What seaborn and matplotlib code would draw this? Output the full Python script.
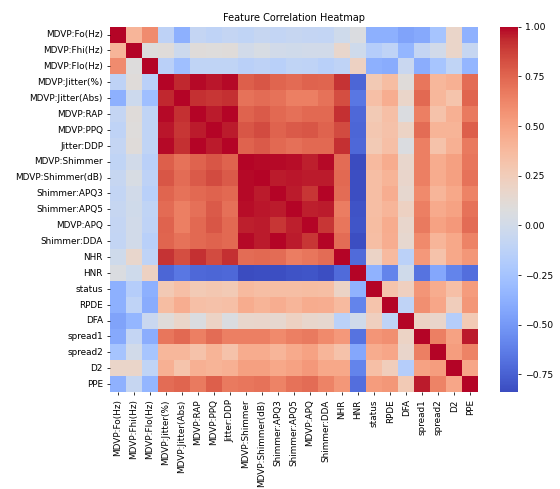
import numpy as np
import pandas as pd
import matplotlib
matplotlib.use('Agg')
import matplotlib.pyplot as plt
import seaborn as sns

# Feature names (order as in the heatmap)
features = [
    "MDVP:Fo(Hz)", "MDVP:Fhi(Hz)", "MDVP:Flo(Hz)", "MDVP:Jitter(%)",
    "MDVP:Jitter(Abs)", "MDVP:RAP", "MDVP:PPQ", "Jitter:DDP",
    "MDVP:Shimmer", "MDVP:Shimmer(dB)", "Shimmer:APQ3", "Shimmer:APQ5",
    "MDVP:APQ", "Shimmer:DDA", "NHR", "HNR", "status", "RPDE", "DFA",
    "spread1", "spread2", "D2", "PPE",
]

# Correlation of each feature with the features that follow it
fo = [0.40, 0.60, -0.12, -0.38, -0.08, -0.11, -0.08, -0.10, -0.07, -0.09, -0.07,
      -0.08, -0.09, -0.02, 0.06, -0.38, -0.38, -0.45, -0.41, -0.25, 0.18, -0.37]
fhi = [0.08, 0.10, -0.03, 0.10, 0.09, 0.10, 0.00, 0.04, -0.00, -0.01, 0.00,
       -0.00, 0.16, -0.02, -0.17, -0.11, -0.34, -0.08, -0.00, 0.18, -0.07]
flo = [-0.14, -0.28, -0.10, -0.10, -0.10, -0.14, -0.12, -0.15, -0.10, -0.11,
       -0.15, -0.11, 0.21, -0.38, -0.40, -0.05, -0.39, -0.24, -0.10, -0.34]
jitter_pct = [0.94, 0.99, 0.97, 0.99, 0.77, 0.80, 0.75, 0.73, 0.76, 0.75, 0.91,
              -0.73, 0.28, 0.36, 0.10, 0.69, 0.39, 0.43, 0.72]
jitter_abs = [0.92, 0.90, 0.92, 0.70, 0.72, 0.70, 0.65, 0.65, 0.70, 0.83,
              -0.66, 0.34, 0.44, 0.18, 0.74, 0.39, 0.31, 0.75]
rap = [0.96, 1.00, 0.76, 0.79, 0.74, 0.71, 0.74, 0.74, 0.92, -0.72, 0.27,
       0.34, 0.06, 0.65, 0.32, 0.43, 0.67]
ppq = [0.96, 0.80, 0.84, 0.76, 0.79, 0.80, 0.76, 0.84, -0.73, 0.29, 0.33,
       0.20, 0.72, 0.41, 0.41, 0.77]
ddp = [0.76, 0.79, 0.74, 0.71, 0.74, 0.74, 0.92, -0.72, 0.27, 0.34, 0.06,
       0.65, 0.32, 0.43, 0.67]
shimmer = [0.99, 0.99, 0.98, 0.95, 0.99, 0.72, -0.84, 0.37, 0.45, 0.16, 0.65,
           0.45, 0.51, 0.69]
shimmer_db = [0.96, 0.97, 0.96, 0.96, 0.74, -0.83, 0.35, 0.41, 0.17, 0.65,
              0.45, 0.51, 0.70]
apq3 = [0.96, 0.90, 1.00, 0.72, -0.83, 0.35, 0.44, 0.15, 0.61, 0.40, 0.47, 0.64]
apq5 = [0.95, 0.96, 0.66, -0.81, 0.35, 0.40, 0.21, 0.65, 0.46, 0.50, 0.70]
apq = [0.90, 0.69, -0.80, 0.36, 0.45, 0.16, 0.67, 0.50, 0.54, 0.72]
dda = [0.72, -0.83, 0.35, 0.44, 0.15, 0.61, 0.40, 0.47, 0.64]
nhr = [-0.71, 0.19, 0.37, -0.13, 0.54, 0.32, 0.47, 0.55]
hnr = [-0.36, -0.60, -0.01, -0.67, -0.43, -0.60, -0.69]
status = [0.31, 0.23, 0.56, 0.45, 0.34, 0.53]
rpde = [-0.11, 0.59, 0.48, 0.24, 0.55]
dfa = [0.20, 0.17, -0.17, 0.27]
spread1 = [0.65, 0.50, 0.96]
spread2 = [0.52, 0.64]
d2 = [0.48]

rows = [fo, fhi, flo, jitter_pct, jitter_abs, rap, ppq, ddp, shimmer, shimmer_db,
        apq3, apq5, apq, dda, nhr, hnr, status, rpde, dfa, spread1, spread2, d2]

# Build the symmetric correlation matrix
n = len(features)
mat = np.eye(n)
for i, vals in enumerate(rows):
    for k, v in enumerate(vals):
        j = i + 1 + k
        mat[i, j] = v
        mat[j, i] = v
corr = pd.DataFrame(mat, index=features, columns=features)

fig = plt.figure(figsize=(8, 6.99))
ax = fig.add_axes([0.196, 0.198, 0.658, 0.747])
cax = fig.add_axes([0.893, 0.198, 0.032, 0.747])
sns.heatmap(corr, cmap='coolwarm', ax=ax, cbar_ax=cax)
ax.tick_params(labelsize=9.1)
cax.tick_params(labelsize=9.5)
ax.set_title("Feature Correlation Heatmap", fontsize=10)
fig.savefig("out.png", dpi=70)
plt.close(fig)
